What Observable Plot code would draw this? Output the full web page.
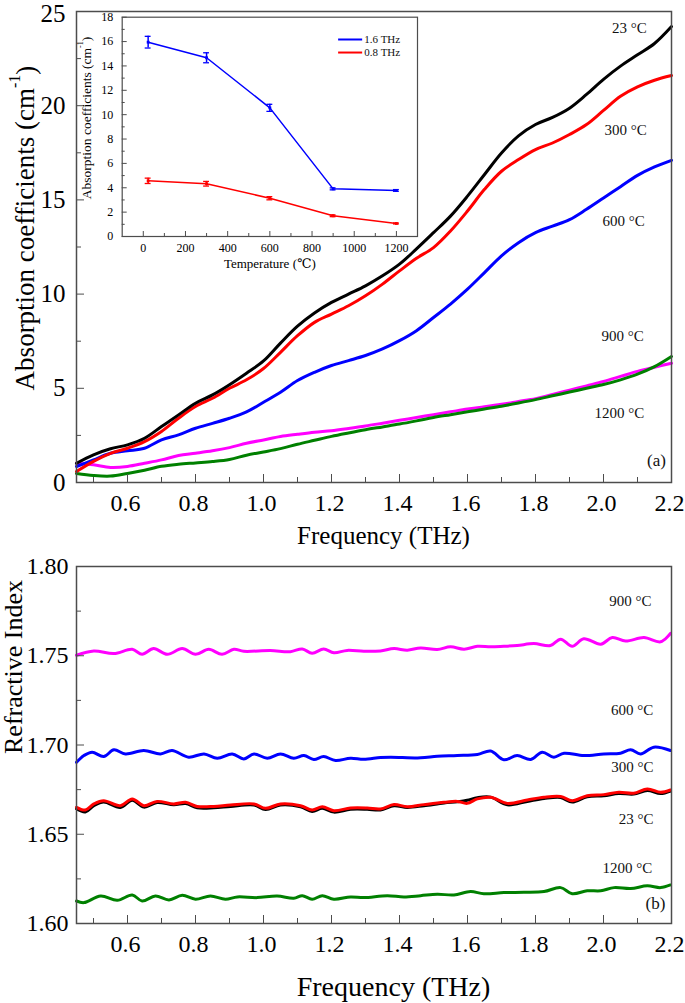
<!DOCTYPE html>
<html><head><meta charset="utf-8">
<script src="https://cdn.jsdelivr.net/npm/d3@7"></script>
<script src="https://cdn.jsdelivr.net/npm/@observablehq/plot@0.6"></script>
<style>
body{margin:0;background:#fff;}
#wrap{position:relative;width:685px;height:1003px;font-family:'Liberation Serif','DejaVu Serif',serif;}
#wrap svg{display:block;}
#wrap svg text{font-family:'Liberation Serif','DejaVu Serif',serif;}
#inset{position:absolute;left:80px;top:0;}
</style></head><body>
<div id="wrap"><div id="top"></div><div id="bottom"></div><div id="inset"></div></div>
<script>
// ---------- Panel (a): absorption coefficients ----------
const freqA = [0.45,0.5,0.55,0.6,0.65,0.7,0.75,0.8,0.85,0.9,0.95,1.0,1.05,1.1,1.15,1.2,1.25,1.3,1.35,1.4,1.45,1.5,1.55,1.6,1.65,1.7,1.75,1.8,1.85,1.9,1.95,2.0,2.05,2.1,2.15,2.2];
const alpha23   = [1.02,1.47,1.79,2.0,2.35,2.97,3.59,4.21,4.65,5.19,5.8,6.45,7.4,8.3,9.0,9.56,10.0,10.44,10.97,11.59,12.4,13.26,14.14,15.2,16.35,17.49,18.4,19.0,19.38,19.87,20.6,21.4,22.1,22.7,23.3,24.2];
const alpha300  = [0.58,1.12,1.55,1.82,2.17,2.71,3.41,4.03,4.47,5.0,5.45,6.05,6.91,7.79,8.5,8.94,9.38,9.91,10.53,11.23,11.9,12.47,13.35,14.41,15.56,16.52,17.14,17.67,18.02,18.47,19.0,19.75,20.5,21.0,21.35,21.6];
const alpha600  = [0.85,1.2,1.55,1.68,1.82,2.26,2.53,2.88,3.14,3.41,3.75,4.26,4.79,5.41,5.85,6.21,6.47,6.74,7.09,7.53,8.06,8.76,9.47,10.26,11.14,12.03,12.73,13.26,13.61,13.95,14.5,15.1,15.7,16.3,16.75,17.1];
const alpha900  = [1.02,0.94,0.8,0.85,1.02,1.2,1.43,1.55,1.68,1.85,2.08,2.26,2.44,2.56,2.67,2.75,2.87,3.0,3.15,3.3,3.45,3.6,3.75,3.9,4.02,4.15,4.3,4.45,4.67,4.9,5.13,5.36,5.63,5.9,6.12,6.33];
const alpha1200 = [0.48,0.37,0.34,0.48,0.65,0.86,0.97,1.04,1.11,1.22,1.45,1.62,1.8,2.03,2.24,2.45,2.63,2.8,2.95,3.1,3.27,3.45,3.6,3.75,3.9,4.05,4.22,4.4,4.6,4.8,5.0,5.2,5.45,5.75,6.15,6.69];

const seriesNames = ["23 °C","300 °C","600 °C","900 °C","1200 °C"];
const seriesColors = ["#000000","#ff0000","#0000ff","#ff00ff","#008000"];

const xMajor = [0.6,0.8,1.0,1.2,1.4,1.6,1.8,2.0,2.2];
const xMinor = [0.5,0.7,0.9,1.1,1.3,1.5,1.7,1.9,2.1];
const yMajorA = [0,5,10,15,20,25];
const yMinorA = [2.5,7.5,12.5,17.5,22.5];

const labelsA = [
  {t:"23 °C", x:2.076, y:24.1},
  {t:"300 °C", x:2.065, y:18.7},
  {t:"600 °C", x:2.059, y:13.85},
  {t:"900 °C", x:2.056, y:7.77},
  {t:"1200 °C", x:2.047, y:3.7}
];

// ---------- Panel (b): refractive index ----------
const riFreq900 = [0.45,0.501,0.56,0.614,0.643,0.677,0.717,0.761,0.80,0.839,0.878,0.913,0.942,1.02,1.079,1.114,1.143,1.177,1.207,1.246,1.295,1.344,1.384,1.423,1.462,1.511,1.55,1.59,1.629,1.668,1.707,1.746,1.795,1.844,1.874,1.908,1.942,1.992,2.026,2.065,2.119,2.168,2.197];
const riVal900  = [1.7503,1.7527,1.7512,1.7536,1.7508,1.754,1.7508,1.754,1.7508,1.7536,1.7508,1.7536,1.7525,1.7529,1.7523,1.7538,1.7514,1.7538,1.7517,1.753,1.7525,1.7527,1.754,1.7531,1.7544,1.7535,1.755,1.7537,1.7553,1.755,1.7553,1.7557,1.7568,1.7557,1.7593,1.7553,1.7595,1.7565,1.7602,1.7582,1.7602,1.7578,1.7625];

const riFreq600 = [0.45,0.472,0.496,0.53,0.56,0.594,0.648,0.697,0.731,0.78,0.825,0.864,0.908,0.942,0.972,1.011,1.05,1.089,1.119,1.148,1.177,1.212,1.256,1.295,1.344,1.374,1.462,1.511,1.57,1.629,1.668,1.707,1.746,1.786,1.82,1.854,1.884,1.942,2.001,2.05,2.08,2.109,2.148,2.197];
const riVal600  = [1.6903,1.6941,1.6960,1.6935,1.6973,1.6950,1.6969,1.6950,1.6969,1.6932,1.6950,1.6926,1.6950,1.6922,1.6950,1.6926,1.6950,1.6926,1.6941,1.6919,1.6935,1.6913,1.6926,1.6920,1.6930,1.6932,1.6928,1.6937,1.6941,1.6947,1.6966,1.6917,1.6941,1.6919,1.6960,1.6932,1.6954,1.6941,1.6950,1.6954,1.6973,1.6950,1.6988,1.6969];

const riFreqRT = [0.45,0.476,0.501,0.53,0.579,0.614,0.648,0.687,0.736,0.771,0.805,0.854,0.903,0.972,1.006,1.05,1.109,1.143,1.173,1.207,1.256,1.305,1.344,1.384,1.423,1.472,1.531,1.57,1.599,1.629,1.668,1.717,1.776,1.825,1.874,1.908,1.952,2.001,2.045,2.089,2.129,2.168,2.197];
const riVal300 = [1.6651,1.6636,1.6670,1.6688,1.6660,1.6698,1.6660,1.6684,1.6670,1.6679,1.6656,1.6656,1.6664,1.6670,1.6645,1.6670,1.6660,1.6636,1.6654,1.6632,1.6647,1.6647,1.6642,1.6666,1.6654,1.6666,1.6679,1.6684,1.6673,1.6698,1.6707,1.6673,1.6692,1.6707,1.6711,1.6688,1.6716,1.6722,1.6735,1.6730,1.6754,1.6735,1.6748];
const riVal23  = [1.6643,1.6625,1.6660,1.6680,1.6650,1.6690,1.6652,1.6678,1.6665,1.6672,1.6648,1.6648,1.6656,1.6664,1.6638,1.6664,1.6654,1.6628,1.6646,1.6624,1.6640,1.6640,1.6636,1.6660,1.6650,1.6660,1.6675,1.6682,1.6690,1.6705,1.6708,1.6665,1.6684,1.6700,1.6706,1.6680,1.6710,1.6716,1.6728,1.6725,1.6745,1.6728,1.6742];

const riFreq1200 = [0.45,0.472,0.521,0.57,0.614,0.643,0.682,0.722,0.761,0.80,0.844,0.888,0.923,0.981,1.04,1.089,1.114,1.143,1.173,1.207,1.256,1.295,1.364,1.413,1.462,1.511,1.56,1.609,1.648,1.707,1.766,1.825,1.874,1.908,1.952,1.992,2.031,2.08,2.129,2.168,2.197];
const riVal1200  = [1.6126,1.6117,1.6154,1.6130,1.6160,1.6126,1.6154,1.6132,1.6158,1.6136,1.6154,1.6136,1.6149,1.6145,1.6154,1.6141,1.6156,1.6136,1.6156,1.6136,1.6149,1.6145,1.6156,1.6149,1.6156,1.6164,1.6160,1.6179,1.6167,1.6173,1.6175,1.6179,1.6201,1.6167,1.6183,1.6183,1.6201,1.6196,1.6211,1.6201,1.6216];

const yMajorB = [1.60,1.65,1.70,1.75,1.80];
const yMinorB = [1.625,1.675,1.725,1.775];

const labelsB = [
  {t:"900 °C", x:2.079, y:1.7808},
  {t:"600 °C", x:2.084, y:1.7194},
  {t:"300 °C", x:2.085, y:1.6874},
  {t:"23 °C", x:2.096, y:1.6587},
  {t:"1200 °C", x:2.07, y:1.6312}
];

// ---------- Inset ----------
const tempC  = [23,300,600,900,1200];
const abs16  = [15.95,14.67,10.56,3.91,3.78];
const err16  = [0.48,0.41,0.29,0.08,0.07];
const abs08  = [4.57,4.33,3.14,1.70,1.07];
const err08  = [0.22,0.19,0.13,0.07,0.04];
const insetXMajor = [0,200,400,600,800,1000,1200];
const insetXMinor = [100,300,500,700,900,1100];
const insetYMajor = [0,2,4,6,8,10,12,14,16,18];
const insetYMinor = [1,3,5,7,9,11,13,15,17];
const insetLegend = [
  {name:"1.6 THz", color:"#0000ff", y:16.17},
  {name:"0.8 THz", color:"#ff0000", y:15.1}
];

// ---------- helpers ----------
const FONT = "'Liberation Serif','DejaVu Serif',serif";
const AX = "#4d4d4d";
function rowsOf(xs, ys){ return xs.map((x,i)=>({x, y: ys[i]})); }

function frameAxes(yMajor, yMinor, yFmt, fs, yPad, topDy){
  const last = yMajor[yMajor.length-1];
  return [
    Plot.axisX(xMajor, {anchor:"bottom", tickSize:-8, fill:"none", stroke:AX, label:null}),
    Plot.axisX(xMinor, {anchor:"bottom", tickSize:-5, fill:"none", stroke:AX, label:null}),
    Plot.axisX(xMajor, {anchor:"bottom", tickSize:0, tickPadding:11, dx:-2, fontSize:24, tickFormat:d=>d.toFixed(1), label:null, fill:"#000"}),
    Plot.axisY(yMajor, {anchor:"left", tickSize:-8, fill:"none", stroke:AX, label:null}),
    Plot.axisY(yMinor, {anchor:"left", tickSize:-5, fill:"none", stroke:AX, label:null}),
    Plot.axisY(yMajor.slice(0,-1), {anchor:"left", tickSize:0, tickPadding:yPad, fontSize:fs, tickFormat:yFmt, label:null, fill:"#000"}),
    Plot.axisY([last], {anchor:"left", tickSize:0, tickPadding:yPad, dy:topDy, fontSize:fs, tickFormat:yFmt, label:null, fill:"#000"}),
    Plot.frame({stroke:AX, strokeWidth:1.5})
  ];
}

// ---------- Top plot ----------
const alphaSeries = [alpha23, alpha300, alpha600, alpha900, alpha1200];
const drawOrderA = [3,4,2,1,0];
const topPlot = Plot.plot({
  width:685, height:550,
  marginLeft:76, marginRight:14, marginTop:11, marginBottom:68,
  style:{fontFamily:FONT, background:"white", color:"#000", overflow:"visible"},
  x:{domain:[0.45,2.2]}, y:{domain:[0,25]},
  marks:[
    ...drawOrderA.map(i => Plot.line(rowsOf(freqA, alphaSeries[i]), {x:"x", y:"y", stroke:seriesColors[i], strokeWidth:3, curve:"catmull-rom"})),
    Plot.text(labelsA, {x:"x", y:"y", text:"t", fontSize:15, fill:"#111", textAnchor:"middle"}),
    Plot.text(["(a)"], {frameAnchor:"bottom-right", dx:-15, dy:-17, fontSize:17, fill:"#111", textAnchor:"middle"}),
    ...frameAxes(yMajorA, yMinorA, d=>String(d), 25, 11, 2),
    Plot.text(["Frequency (THz)"], {frameAnchor:"bottom", dx:9.5, dy:53, fontSize:25, fill:"#000", lineAnchor:"middle"})
  ]
});
document.getElementById("top").appendChild(topPlot);
{
  const t = d3.select(topPlot).append("text")
    .attr("transform","translate(25,228) rotate(-90)")
    .attr("text-anchor","middle").attr("dominant-baseline","central")
    .attr("font-family",FONT).attr("font-size",27).attr("fill","#000");
  t.append("tspan").text("Absorption coefficients (cm");
  t.append("tspan").attr("font-size",16).attr("dy","-0.7em").text("-1");
  t.append("tspan").attr("dy","0.45em").text(")");
}

// ---------- Bottom plot ----------
const riSeries = [
  {xs:riFreq1200, ys:riVal1200, c:seriesColors[4]},
  {xs:riFreq900, ys:riVal900, c:seriesColors[3]},
  {xs:riFreq600, ys:riVal600, c:seriesColors[2]},
  {xs:riFreqRT, ys:riVal23, c:seriesColors[0]},
  {xs:riFreqRT, ys:riVal300, c:seriesColors[1]}
];
const bottomPlot = Plot.plot({
  width:685, height:453,
  marginLeft:76, marginRight:14, marginTop:16, marginBottom:80,
  style:{fontFamily:FONT, background:"white", color:"#000", overflow:"visible"},
  x:{domain:[0.45,2.2]}, y:{domain:[1.6,1.8]},
  marks:[
    ...riSeries.map(s => Plot.line(rowsOf(s.xs, s.ys), {x:"x", y:"y", stroke:s.c, strokeWidth:3, curve:"catmull-rom"})),
    Plot.text(labelsB, {x:"x", y:"y", text:"t", fontSize:15, fill:"#111", textAnchor:"middle"}),
    Plot.text(["(b)"], {frameAnchor:"bottom-right", dx:-16, dy:-15, fontSize:17, fill:"#111", textAnchor:"middle"}),
    ...frameAxes(yMajorB, yMinorB, d=>d.toFixed(2), 24, 8, 0),
    Plot.text(["Frequency (THz)"], {frameAnchor:"bottom", dx:19.5, dy:64, fontSize:28, fill:"#000", lineAnchor:"middle"}),
    Plot.text(["Refractive Index"], {frameAnchor:"left", dx:-63, dy:9, rotate:-90, fontSize:26, fill:"#000", lineAnchor:"middle"})
  ]
});
document.getElementById("bottom").appendChild(bottomPlot);

// ---------- Inset plot ----------
const rows16 = tempC.map((t,i)=>({t, v:abs16[i], lo:abs16[i]-err16[i], hi:abs16[i]+err16[i]}));
const rows08 = tempC.map((t,i)=>({t, v:abs08[i], lo:abs08[i]-err08[i], hi:abs08[i]+err08[i]}));
function errMarks(rows, color){
  return [
    Plot.line(rows, {x:"t", y:"v", stroke:color, strokeWidth:1.5}),
    Plot.ruleX(rows, {x:"t", y1:"lo", y2:"hi", stroke:color, strokeWidth:1.5}),
    Plot.ruleY(rows, {y:"hi", x1:d=>d.t-14, x2:d=>d.t+14, stroke:color, strokeWidth:1.3}),
    Plot.ruleY(rows, {y:"lo", x1:d=>d.t-14, x2:d=>d.t+14, stroke:color, strokeWidth:1.3}),
    Plot.dot(rows, {x:"t", y:"v", r:1.6, fill:color, symbol:"square"})
  ];
}
const insetPlot = Plot.plot({
  width:345, height:280,
  marginLeft:41.7, marginRight:8, marginTop:16.7, marginBottom:44,
  style:{fontFamily:FONT, background:"transparent", color:"#000", overflow:"visible"},
  x:{domain:[-100,1300]}, y:{domain:[0,18]},
  marks:[
    Plot.frame({fill:"white", stroke:AX, strokeWidth:1.2}),
    ...errMarks(rows16, "#0000ff"),
    ...errMarks(rows08, "#ff0000"),
    Plot.ruleY(insetLegend, {y:"y", x1:926, x2:1040, stroke:"color", strokeWidth:2}),
    Plot.text(insetLegend, {y:"y", x:1048, text:"name", textAnchor:"start", fontSize:11, fill:"#111"}),
    Plot.axisX(insetXMajor, {anchor:"bottom", tickSize:-5, fill:"none", stroke:AX, label:null}),
    Plot.axisX(insetXMinor, {anchor:"bottom", tickSize:-3, fill:"none", stroke:AX, label:null}),
    Plot.axisX(insetXMajor, {anchor:"bottom", tickSize:0, tickPadding:7, fontSize:12, tickFormat:d=>String(d), label:null, fill:"#000"}),
    Plot.axisY(insetYMajor, {anchor:"left", tickSize:-5, fill:"none", stroke:AX, label:null}),
    Plot.axisY(insetYMinor, {anchor:"left", tickSize:-3, fill:"none", stroke:AX, label:null}),
    Plot.axisY(insetYMajor, {anchor:"left", tickSize:0, tickPadding:9, fontSize:12, tickFormat:d=>String(d), label:null, fill:"#000"}),
    Plot.text(["Temperature (℃)"], {frameAnchor:"bottom", dy:27, fontSize:13, fill:"#000", lineAnchor:"middle"})
  ]
});
document.getElementById("inset").appendChild(insetPlot);
{
  const t = d3.select(insetPlot).append("text")
    .attr("transform","translate(6,118) rotate(-90)")
    .attr("text-anchor","middle").attr("dominant-baseline","central")
    .attr("font-family",FONT).attr("font-size",13.5).attr("fill","#000");
  t.append("tspan").text("Absorption coefficients (cm");
  t.append("tspan").attr("font-size",8).attr("dy","-0.7em").text("-1");
  t.append("tspan").attr("dy","0.45em").text(")");
}
</script></body></html>
